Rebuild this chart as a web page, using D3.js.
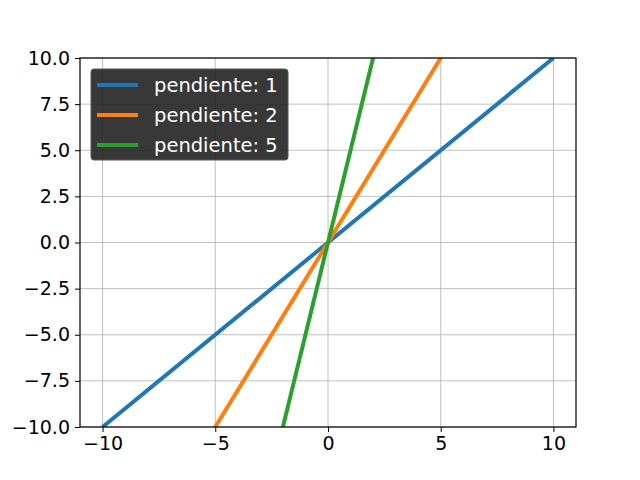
<!DOCTYPE html>
<html><head><meta charset="utf-8">
<script src="https://cdn.jsdelivr.net/npm/d3@7"></script>
<style>body{margin:0;background:#fff}</style></head>
<body><script>
const xs = [-10, 10];
const slopes = [1, 2, 5];
const colors = ["#1f77b4", "#ff7f0e", "#2ca02c"];
const xTicks = [-10, -5, 0, 5, 10];
const yTicks = [-10, -7.5, -5, -2.5, 0, 2.5, 5, 7.5, 10];

const W = 640, H = 480, L = 80, R = 576, T = 58, B = 427;
const svg = d3.select("body").append("svg").attr("width", W).attr("height", H)
  .style("font-family", "DejaVu Sans");
const x = d3.scaleLinear().domain([-11, 11]).range([L, R]);
const y = d3.scaleLinear().domain([-10, 10]).range([B, T]);

svg.append("clipPath").attr("id", "c").append("rect")
  .attr("x", L).attr("y", T).attr("width", R - L).attr("height", B - T);

// grid
svg.append("g").selectAll("line").data(xTicks).join("line")
  .attr("x1", d => x(d)).attr("x2", d => x(d)).attr("y1", T).attr("y2", B)
  .attr("stroke", "#b0b0b0").attr("stroke-width", 0.8);
svg.append("g").selectAll("line").data(yTicks).join("line")
  .attr("y1", d => y(d)).attr("y2", d => y(d)).attr("x1", L).attr("x2", R)
  .attr("stroke", "#b0b0b0").attr("stroke-width", 0.8);

// lines
const line = d3.line().x(d => x(d[0])).y(d => y(d[1]));
svg.append("g").attr("clip-path", "url(#c)").selectAll("path").data(slopes).join("path")
  .attr("d", m => line(xs.map(v => [v, m * v])))
  .attr("fill", "none").attr("stroke", (m, i) => colors[i]).attr("stroke-width", 4);

// axes
const fmtY = d => d3.format(".1f")(d).replace("-", "\u2212");
const fmtX = d => String(d).replace("-", "\u2212");
const gx = svg.append("g").attr("transform", `translate(0,${B})`)
  .call(d3.axisBottom(x).tickValues(xTicks).tickFormat(fmtX).tickSize(5).tickPadding(5));
const gy = svg.append("g").attr("transform", `translate(${L},0)`)
  .call(d3.axisLeft(y).tickValues(yTicks).tickFormat(fmtY).tickSize(5).tickPadding(5));
[gx, gy].forEach(g => {
  g.attr("font-size", 19).attr("font-family", "DejaVu Sans");
  g.selectAll("text").attr("fill", "#000");
  g.select(".domain").remove();
  g.selectAll(".tick line").attr("stroke", "#000");
});
svg.append("rect").attr("x", L).attr("y", T).attr("width", R - L).attr("height", B - T)
  .attr("fill", "none").attr("stroke", "#000").attr("stroke-width", 1.2);

// legend
const lg = svg.append("g");
lg.append("rect").attr("x", 91).attr("y", 69).attr("width", 197).attr("height", 91)
  .attr("rx", 3).attr("fill", "#222").attr("fill-opacity", 0.9).attr("stroke", "#555");
slopes.forEach((m, i) => {
  const cy = 85 + i * 30;
  lg.append("line").attr("x1", 97).attr("x2", 138).attr("y1", cy).attr("y2", cy)
    .attr("stroke", colors[i]).attr("stroke-width", 4);
  lg.append("text").attr("x", 154).attr("y", cy + 7).attr("font-size", 19.5)
    .attr("fill", "#fff").text("pendiente: " + m);
});
</script></body></html>
